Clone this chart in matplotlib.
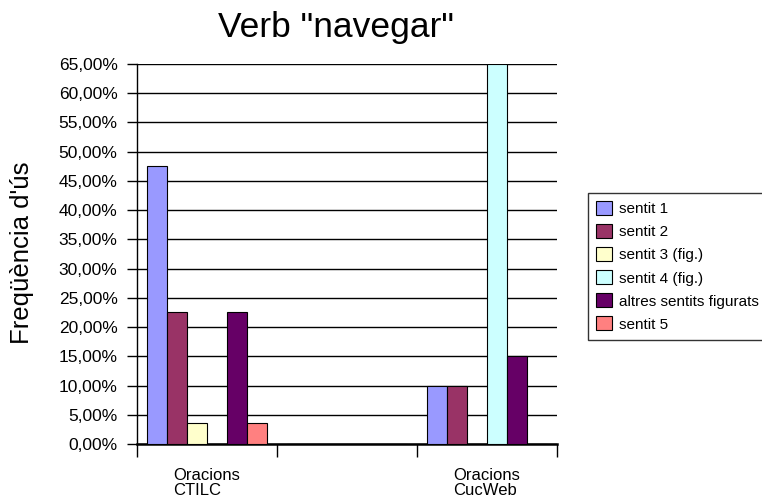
import matplotlib.pyplot as plt
import numpy as np
from matplotlib.ticker import FuncFormatter, FixedLocator

plt.rcParams['font.family'] = ['Liberation Sans', 'DejaVu Sans']

# dades (fracció d'ús)
categories = ['Oracions\nCTILC', '', 'Oracions\nCucWeb']
series = ['sentit 1', 'sentit 2', 'sentit 3 (fig.)', 'sentit 4 (fig.)',
          'altres sentits figurats', 'sentit 5']
sentit1 = [0.476, 0.0, 0.10]
sentit2 = [0.226, 0.0, 0.10]
sentit3 = [0.036, 0.0, 0.0]
sentit4 = [0.0, 0.0, 0.65]
altres = [0.226, 0.0, 0.15]
sentit5 = [0.036, 0.0, 0.0]
values = [sentit1, sentit2, sentit3, sentit4, altres, sentit5]
colors = ['#9999FF', '#993366', '#FFFFCC', '#CCFFFF', '#660066', '#FF8080']

fig = plt.figure(figsize=(7.62, 5.03), dpi=100)
ax = fig.add_axes([137 / 762, 1 - 444 / 503, 420 / 762, 380 / 503])

x = np.arange(len(categories))
w = 1 / 7
for i, (name, vals, c) in enumerate(zip(series, values, colors)):
    ax.bar(x + (i - 2.5) * w, vals, w, color=c, edgecolor='black',
           linewidth=0.8, label=name, zorder=3)

ax.set_xlim(-0.5, 2.5)
ax.set_ylim(0, 0.65)
ax.set_yticks(np.arange(0, 0.651, 0.05))
ax.yaxis.set_major_formatter(FuncFormatter(lambda v, p: f'{v * 100:.2f}%'.replace('.', ',')))
ax.yaxis.grid(True, color='black', linewidth=1, zorder=0)
ax.tick_params(axis='y', length=7, width=1, labelsize=12.5, pad=7)

ax.set_xticks(x)
ax.set_xticklabels(categories, fontsize=12, multialignment='left', linespacing=1.0)
ax.tick_params(axis='x', which='major', length=0, pad=17)
ax.xaxis.set_minor_locator(FixedLocator([-0.5, 0.5, 1.5, 2.5]))
ax.tick_params(axis='x', which='minor', length=9, width=1, direction='out')

ax.spines['top'].set_visible(False)
ax.spines['right'].set_visible(False)
ax.spines['bottom'].set_linewidth(1.8)
ax.spines['left'].set_linewidth(1)

ax.set_ylabel("Freqüència d'ús", fontsize=18.5)
ax.yaxis.set_label_coords(-(137 - 34) / 420, (444 - 253) / 380)
fig.text(336 / 762, 1 - 27 / 503, 'Verb "navegar"', fontsize=25.5,
         ha='center', va='center')

leg = ax.legend(loc='upper left', bbox_to_anchor=(588 / 762, 1 - 193 / 503),
                bbox_transform=fig.transFigure, fontsize=11, frameon=True,
                fancybox=False, edgecolor='black', borderaxespad=0,
                handlelength=1.0, handleheight=1.0, handletextpad=0.5,
                labelspacing=0.52, borderpad=0.55)
leg.get_frame().set_linewidth(1)

fig.savefig('out.png', dpi=100)
